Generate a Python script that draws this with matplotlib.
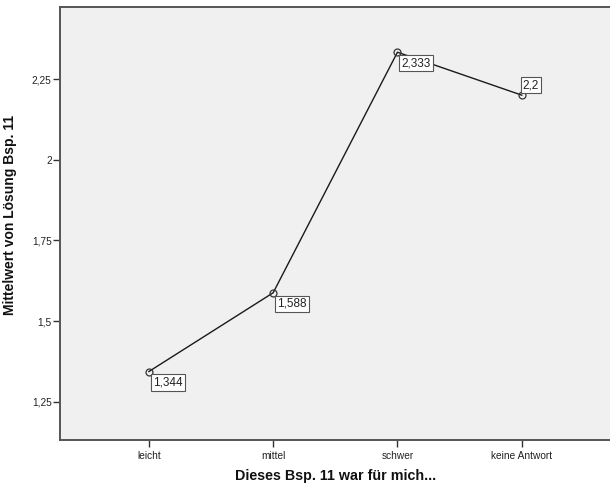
import matplotlib
matplotlib.use("Agg")
import matplotlib.pyplot as plt

categories = ["leicht", "mittel", "schwer", "keine Antwort"]
means = [1.344, 1.588, 2.333, 2.2]
value_labels = ["1,344", "1,588", "2,333", "2,2"]
yticks = [1.25, 1.5, 1.75, 2.0, 2.25]
ytick_labels = ["1,25", "1,5", "1,75", "2", "2,25"]

plt.rcParams['font.family'] = ['Liberation Sans', 'DejaVu Sans']

fig = plt.figure(figsize=(6.1, 4.88), dpi=100)
ax = fig.add_axes([60/610, 1 - 440/488, 1 - 60/610 + 0.002, (440 - 7)/488])
ax.set_facecolor('#f0f0f0')

x = list(range(len(categories)))
ax.plot(x, means, color='#1a1a1a', lw=1.0, marker='o', ms=5,
        mfc='none', mec='#333333', mew=0.9, zorder=3)

offsets = [(4, -5, 'left', 'top'), (4, -5, 'left', 'top'),
           (4, -5, 'left', 'top'), (1, 4, 'left', 'bottom')]
for xi, yi, lab, (dx, dy, ha, va) in zip(x, means, value_labels, offsets):
    ax.annotate(lab, (xi, yi), xytext=(dx, dy), textcoords='offset pixels',
                ha=ha, va=va, fontsize=8.5, color='#222222', zorder=5,
                bbox=dict(boxstyle='square,pad=0.18', fc='white', ec='#555555', lw=0.8))

ax.set_xlim(-0.715, 3.72)
ax.set_ylim(1.132, 2.473)
ax.set_xticks(x)
ax.set_xticklabels(categories)
ax.set_yticks(yticks)
ax.set_yticklabels(ytick_labels)
ax.tick_params(axis='both', labelsize=7.3, length=5, width=1, color='#333333',
               labelcolor='#222222', direction='out', pad=1)
ax.tick_params(axis='x', pad=3)

for s in ['left', 'bottom', 'top']:
    ax.spines[s].set_color('#555555')
    ax.spines[s].set_linewidth(1.4)
ax.spines['right'].set_visible(False)

ax.set_xlabel("Dieses Bsp. 11 war für mich...", fontsize=10.3, fontweight='bold',
              color='#111111', labelpad=6)
ax.set_ylabel("Mittelwert von Lösung Bsp. 11", fontsize=10, fontweight='bold',
              color='#111111')
ax.yaxis.set_label_coords(-0.078, 0.52)

fig.savefig("out.png", dpi=100)
